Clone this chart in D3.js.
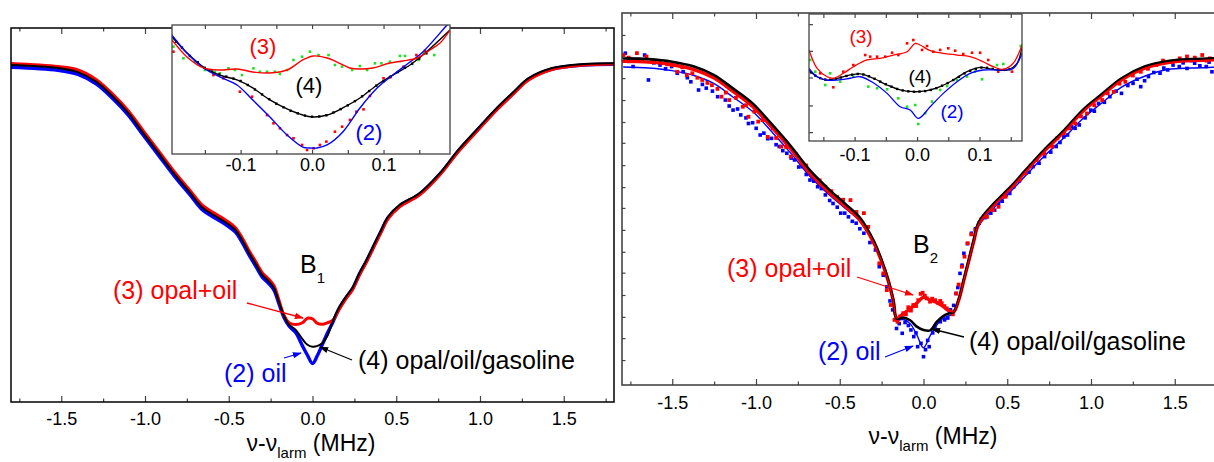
<!DOCTYPE html>
<html lang="en">
<head>
<meta charset="UTF-8">
<title>B1 / B2 line shapes</title>
<script src="https://d3js.org/d3.v7.min.js"></script>
<style>
  body { margin: 0; background: #fff; }
  svg { display: block; }
  svg text { font-family: "Liberation Sans", Arial, sans-serif; }
</style>
</head>
<body>
<svg width="1214" height="462"></svg>
<script>
// ---------- axis ticks ----------
const mainMajors = [-1.5, -1.0, -0.5, 0.0, 0.5, 1.0, 1.5];
const mainLabels = ["-1.5", "-1.0", "-0.5", "0.0", "0.5", "1.0", "1.5"];
const mainMinors = [-1.75, -1.25, -0.75, -0.25, 0.25, 0.75, 1.25, 1.75];
const insetMajors = [-0.1, 0.0, 0.1];
const insetLabels = ["-0.1", "0.0", "0.1"];
const insetMinors = [-0.15, -0.05, 0.05, 0.15];
const rpYTicks = [0.941, 0.882, 0.825, 0.766, 0.707, 0.651, 0.591, 0.532, 0.476, 0.417, 0.358, 0.302, 0.242, 0.183, 0.126, 0.067];
const riYTicks = [0.07, 0.28, 0.5, 0.71, 0.92];

// ---------- left panel (B1), frequency in MHz, normalised signal ----------
const lpX = [-1.80,-1.52,-1.40,-1.29,-1.19,-1.10,-1.01,-0.92,-0.82,-0.73,-0.66,-0.59,-0.52,-0.46,-0.42,-0.38,-0.34,-0.30,-0.26,-0.23,-0.20,-0.17,-0.14,-0.10,-0.06,-0.03,0.00,0.03,0.06,0.09,0.12,0.16,0.20,0.24,0.28,0.32,0.38,0.41,0.45,0.52,0.64,0.76,0.87,0.99,1.10,1.20,1.29,1.43,1.62,1.80];
const lpBlack = [0.901,0.893,0.882,0.856,0.816,0.773,0.719,0.666,0.607,0.559,0.521,0.500,0.481,0.460,0.433,0.400,0.370,0.340,0.322,0.305,0.268,0.230,0.207,0.193,0.168,0.153,0.148,0.150,0.158,0.178,0.215,0.254,0.282,0.307,0.345,0.378,0.433,0.460,0.495,0.527,0.559,0.612,0.674,0.733,0.786,0.829,0.866,0.893,0.904,0.906];
const lpBlue = [0.895,0.887,0.876,0.850,0.810,0.767,0.713,0.660,0.601,0.553,0.515,0.494,0.475,0.454,0.427,0.394,0.364,0.334,0.316,0.299,0.262,0.226,0.203,0.185,0.150,0.125,0.103,0.125,0.155,0.185,0.212,0.251,0.279,0.304,0.342,0.375,0.430,0.457,0.492,0.524,0.556,0.609,0.671,0.730,0.783,0.826,0.863,0.890,0.901,0.903];
const lpRed = [0.905,0.897,0.888,0.862,0.822,0.779,0.725,0.672,0.613,0.565,0.527,0.506,0.487,0.466,0.439,0.406,0.376,0.346,0.328,0.311,0.272,0.232,0.212,0.207,0.212,0.224,0.222,0.210,0.208,0.212,0.218,0.248,0.276,0.301,0.339,0.372,0.427,0.454,0.489,0.522,0.554,0.607,0.669,0.728,0.781,0.824,0.861,0.889,0.901,0.904];

// left inset (fits + points)
const liRedX = [-0.196,-0.175,-0.152,-0.129,-0.105,-0.083,-0.059,-0.035,-0.013,0.002,0.021,0.035,0.053,0.067,0.085,0.109,0.127,0.147,0.165,0.179,0.193];
const liRed = [0.884,0.752,0.667,0.651,0.659,0.636,0.628,0.651,0.729,0.760,0.744,0.713,0.667,0.659,0.667,0.705,0.721,0.744,0.806,0.860,0.961];
const liBlackX = [-0.196,-0.175,-0.152,-0.129,-0.105,-0.083,-0.059,-0.035,-0.013,0.001,0.021,0.043,0.067,0.091,0.113,0.137,0.155,0.193];
const liBlack = [0.907,0.783,0.674,0.612,0.574,0.512,0.419,0.349,0.302,0.287,0.302,0.357,0.434,0.535,0.612,0.690,0.767,0.961];
const liBlueX = [-0.196,-0.175,-0.152,-0.129,-0.105,-0.083,-0.059,-0.035,-0.013,-0.004,0.007,0.021,0.043,0.067,0.091,0.113,0.137,0.155,0.189,0.200];
const liBlue = [0.922,0.783,0.667,0.597,0.535,0.419,0.287,0.147,0.054,0.047,0.047,0.070,0.171,0.357,0.512,0.612,0.713,0.791,1.000,1.060];
const liGreenPts = [[-0.194,0.832],[-0.180,0.742],[-0.164,0.716],[-0.150,0.651],[-0.136,0.638],[-0.129,0.625],[-0.117,0.664],[-0.108,0.651],[-0.098,0.612],[-0.082,0.664],[-0.073,0.638],[-0.063,0.638],[-0.052,0.638],[-0.045,0.620],[-0.035,0.651],[-0.026,0.729],[-0.014,0.754],[-0.003,0.793],[0.009,0.767],[0.023,0.767],[0.032,0.690],[0.042,0.677],[0.056,0.651],[0.067,0.682],[0.077,0.651],[0.088,0.703],[0.097,0.703],[0.109,0.716],[0.123,0.760],[0.130,0.760],[0.149,0.729],[0.156,0.780],[0.171,0.767]];
const liRedPts = [[-0.194,0.793],[-0.138,0.612],[-0.124,0.587],[-0.101,0.483],[-0.084,0.444],[-0.063,0.302],[-0.054,0.238],[-0.045,0.199],[-0.035,0.147],[-0.026,0.122],[-0.014,0.070],[-0.007,0.031],[0.002,0.044],[0.011,0.070],[0.020,0.096],[0.032,0.173],[0.042,0.212],[0.053,0.264],[0.062,0.328],[0.072,0.346],[0.081,0.450],[0.100,0.587],[0.109,0.594],[0.128,0.677],[0.146,0.767],[0.158,0.800]];
const liBlackPts = [[-0.190,0.870],[-0.182,0.825],[-0.171,0.760],[-0.160,0.712],[-0.150,0.668],[-0.140,0.640],[-0.130,0.617],[-0.120,0.600],[-0.110,0.585],[-0.100,0.566],[-0.090,0.535],[-0.080,0.500],[-0.070,0.462],[-0.060,0.425],[-0.050,0.390],[-0.040,0.362],[-0.030,0.335],[-0.020,0.315],[-0.010,0.298],[0.000,0.289],[0.010,0.291],[0.020,0.300],[0.030,0.322],[0.040,0.348],[0.050,0.377],[0.060,0.410],[0.070,0.447],[0.080,0.488],[0.090,0.530],[0.100,0.565],[0.110,0.600],[0.120,0.635],[0.130,0.668],[0.140,0.700],[0.150,0.740],[0.160,0.780]];

// ---------- right panel (B2) ----------
const rpX = [-1.79,-1.64,-1.50,-1.37,-1.25,-1.14,-1.02,-0.91,-0.79,-0.68,-0.56,-0.47,-0.38,-0.30,-0.25,-0.21,-0.18,-0.16,-0.12,-0.08,-0.04,0.00,0.04,0.08,0.12,0.15,0.18,0.21,0.24,0.27,0.30,0.33,0.42,0.52,0.61,0.72,0.84,0.95,1.07,1.18,1.32,1.46,1.60,1.73,1.80];
const rpBlack = [0.878,0.876,0.869,0.856,0.833,0.798,0.757,0.703,0.641,0.578,0.524,0.488,0.450,0.390,0.336,0.282,0.228,0.178,0.181,0.174,0.157,0.148,0.147,0.170,0.186,0.192,0.197,0.230,0.283,0.336,0.390,0.438,0.488,0.533,0.578,0.632,0.685,0.739,0.784,0.824,0.856,0.871,0.876,0.878,0.879];
const rpBlue = [0.855,0.852,0.845,0.832,0.810,0.775,0.735,0.683,0.622,0.562,0.510,0.476,0.440,0.382,0.330,0.276,0.222,0.176,0.176,0.165,0.135,0.100,0.133,0.162,0.180,0.186,0.192,0.225,0.276,0.328,0.380,0.428,0.476,0.520,0.563,0.615,0.665,0.716,0.760,0.800,0.830,0.848,0.852,0.854,0.855];
const rpRed = [0.870,0.868,0.861,0.848,0.825,0.790,0.749,0.695,0.633,0.570,0.516,0.481,0.443,0.385,0.332,0.279,0.226,0.180,0.192,0.205,0.220,0.236,0.228,0.222,0.210,0.200,0.197,0.228,0.280,0.333,0.386,0.434,0.484,0.529,0.574,0.628,0.681,0.735,0.780,0.820,0.852,0.867,0.872,0.874,0.875];
const rpBluePts = [[-1.780,0.892],[-1.760,0.870],[-1.734,0.856],[-1.700,0.875],[-1.665,0.887],[-1.642,0.820],[-1.610,0.866],[-1.573,0.860],[-1.540,0.850],[-1.504,0.856],[-1.470,0.838],[-1.435,0.842],[-1.410,0.826],[-1.389,0.815],[-1.343,0.793],[-1.320,0.808],[-1.297,0.798],[-1.260,0.790],[-1.229,0.775],[-1.183,0.766],[-1.160,0.750],[-1.137,0.739],[-1.110,0.742],[-1.091,0.726],[-1.060,0.718],[-1.045,0.703],[-1.020,0.705],[-0.999,0.690],[-0.975,0.672],[-0.953,0.677],[-0.930,0.662],[-0.907,0.663],[-0.880,0.646],[-0.861,0.641],[-0.840,0.630],[-0.816,0.623],[-0.790,0.610],[-0.770,0.605],[-0.745,0.586],[-0.724,0.587],[-0.700,0.566],[-0.678,0.551],[-0.655,0.548],[-0.632,0.533],[-0.610,0.528],[-0.586,0.511],[-0.560,0.496],[-0.540,0.488],[-0.515,0.478],[-0.494,0.462],[-0.470,0.462],[-0.448,0.452],[-0.425,0.440],[-0.402,0.435],[-0.380,0.420],[-0.356,0.408],[-0.320,0.383],[-0.287,0.363],[-0.264,0.318],[-0.240,0.295],[-0.219,0.264],[-0.200,0.226],[-0.184,0.202],[-0.161,0.152],[-0.145,0.165],[-0.127,0.139],[-0.110,0.168],[-0.090,0.160],[-0.075,0.148],[-0.058,0.130],[-0.045,0.140],[-0.035,0.103],[-0.015,0.112],[0.000,0.076],[0.012,0.095],[0.025,0.120],[0.034,0.103],[0.055,0.140],[0.068,0.158],[0.080,0.148],[0.100,0.170],[0.126,0.175],[0.145,0.180],[0.161,0.202],[0.180,0.214],[0.195,0.246],[0.205,0.262],[0.218,0.300],[0.230,0.322],[0.241,0.354],[0.262,0.380],[0.287,0.408],[0.310,0.420],[0.333,0.435],[0.370,0.450],[0.402,0.462],[0.425,0.470],[0.448,0.488],[0.470,0.494],[0.494,0.511],[0.515,0.515],[0.539,0.533],[0.570,0.548],[0.608,0.569],[0.630,0.572],[0.654,0.587],[0.690,0.596],[0.723,0.614],[0.760,0.626],[0.792,0.641],[0.815,0.652],[0.838,0.667],[0.860,0.672],[0.884,0.694],[0.905,0.690],[0.930,0.699],[0.965,0.718],[0.999,0.739],[1.020,0.736],[1.045,0.757],[1.080,0.760],[1.113,0.775],[1.150,0.790],[1.182,0.784],[1.220,0.805],[1.251,0.811],[1.275,0.822],[1.297,0.802],[1.320,0.818],[1.343,0.829],[1.375,0.840],[1.412,0.838],[1.435,0.852],[1.458,0.847],[1.490,0.860],[1.527,0.856],[1.550,0.866],[1.573,0.851],[1.600,0.872],[1.619,0.865],[1.650,0.858],[1.688,0.856],[1.705,0.868],[1.722,0.842]];
const rpRedPts = [[-1.791,0.887],[-1.760,0.880],[-1.711,0.892],[-1.680,0.874],[-1.654,0.883],[-1.620,0.870],[-1.573,0.869],[-1.530,0.862],[-1.500,0.860],[-1.470,0.842],[-1.440,0.854],[-1.413,0.833],[-1.380,0.838],[-1.350,0.826],[-1.321,0.820],[-1.290,0.812],[-1.263,0.806],[-1.230,0.796],[-1.206,0.775],[-1.180,0.786],[-1.160,0.766],[-1.120,0.772],[-1.079,0.748],[-1.060,0.752],[-1.045,0.721],[-1.010,0.735],[-0.987,0.708],[-0.960,0.712],[-0.930,0.667],[-0.900,0.690],[-0.880,0.664],[-0.850,0.641],[-0.820,0.640],[-0.792,0.614],[-0.760,0.620],[-0.724,0.596],[-0.700,0.590],[-0.655,0.560],[-0.620,0.550],[-0.586,0.533],[-0.550,0.521],[-0.517,0.506],[-0.480,0.498],[-0.436,0.497],[-0.400,0.465],[-0.356,0.462],[-0.330,0.425],[-0.300,0.384],[-0.264,0.327],[-0.240,0.300],[-0.219,0.255],[-0.195,0.215],[-0.173,0.175],[-0.155,0.170],[-0.140,0.184],[-0.121,0.193],[-0.105,0.190],[-0.091,0.209],[-0.075,0.200],[-0.061,0.215],[-0.045,0.212],[-0.031,0.228],[-0.017,0.245],[-0.005,0.248],[0.008,0.240],[0.019,0.233],[0.039,0.224],[0.052,0.232],[0.069,0.228],[0.088,0.220],[0.100,0.226],[0.109,0.220],[0.125,0.212],[0.139,0.206],[0.158,0.197],[0.175,0.190],[0.195,0.246],[0.210,0.270],[0.229,0.318],[0.245,0.345],[0.264,0.381],[0.285,0.405],[0.310,0.417],[0.345,0.445],[0.379,0.452],[0.415,0.470],[0.448,0.479],[0.490,0.506],[0.539,0.538],[0.575,0.552],[0.608,0.569],[0.640,0.590],[0.677,0.605],[0.720,0.622],[0.769,0.641],[0.800,0.664],[0.838,0.677],[0.870,0.690],[0.907,0.703],[0.940,0.722],[0.976,0.730],[1.020,0.752],[1.067,0.766],[1.100,0.784],[1.136,0.788],[1.170,0.810],[1.205,0.815],[1.250,0.832],[1.297,0.842],[1.340,0.850],[1.389,0.860],[1.430,0.872],[1.481,0.869],[1.530,0.878],[1.573,0.883],[1.620,0.880],[1.664,0.887],[1.690,0.872],[1.710,0.878]];

// right inset
const riRedX = [-0.173,-0.160,-0.144,-0.134,-0.118,-0.102,-0.080,-0.059,-0.038,-0.016,-0.003,0.005,0.021,0.042,0.064,0.085,0.106,0.122,0.138,0.154,0.165,0.168];
const riRed = [0.717,0.572,0.506,0.494,0.533,0.585,0.638,0.651,0.677,0.703,0.769,0.756,0.711,0.690,0.677,0.664,0.624,0.585,0.564,0.612,0.717,0.756];
const riBlackX = [-0.173,-0.160,-0.144,-0.128,-0.107,-0.091,-0.070,-0.048,-0.027,-0.006,0.016,0.037,0.058,0.080,0.101,0.122,0.144,0.160,0.168];
const riBlack = [0.559,0.506,0.480,0.494,0.520,0.528,0.494,0.441,0.402,0.388,0.396,0.428,0.480,0.546,0.580,0.564,0.559,0.612,0.743];
const riBlueX = [-0.173,-0.160,-0.144,-0.128,-0.107,-0.091,-0.070,-0.048,-0.027,-0.011,0.002,0.021,0.042,0.064,0.085,0.106,0.133,0.154,0.168];
const riBlue = [0.572,0.506,0.480,0.480,0.494,0.506,0.459,0.375,0.270,0.244,0.178,0.270,0.375,0.467,0.533,0.559,0.559,0.572,0.690];
const riRedPts = [[-0.155,0.533],[-0.134,0.423],[-0.118,0.546],[-0.102,0.598],[-0.083,0.677],[-0.075,0.664],[-0.064,0.664],[-0.051,0.664],[-0.040,0.695],[-0.030,0.677],[-0.016,0.769],[-0.006,0.795],[0.008,0.717],[0.016,0.748],[0.026,0.703],[0.037,0.717],[0.050,0.730],[0.061,0.711],[0.074,0.685],[0.088,0.695],[0.101,0.695],[0.114,0.638],[0.130,0.546],[0.152,0.546]];
const riGreenPts = [[-0.171,0.638],[-0.163,0.546],[-0.147,0.441],[-0.139,0.533],[-0.123,0.467],[-0.102,0.507],[-0.078,0.428],[-0.064,0.415],[-0.048,0.407],[-0.030,0.336],[-0.016,0.270],[-0.003,0.283],[0.002,0.134],[0.013,0.218],[0.024,0.310],[0.037,0.402],[0.048,0.433],[0.064,0.480],[0.080,0.507],[0.093,0.546],[0.104,0.486],[0.128,0.598],[0.138,0.606],[0.166,0.748]];
const riBlackPts = [[-0.170,0.540],[-0.163,0.515],[-0.155,0.495],[-0.147,0.484],[-0.139,0.482],[-0.130,0.490],[-0.122,0.500],[-0.113,0.512],[-0.104,0.522],[-0.095,0.528],[-0.086,0.524],[-0.077,0.510],[-0.068,0.490],[-0.059,0.468],[-0.050,0.447],[-0.041,0.428],[-0.032,0.410],[-0.023,0.398],[-0.014,0.391],[-0.005,0.388],[0.004,0.389],[0.013,0.393],[0.022,0.402],[0.031,0.416],[0.040,0.435],[0.049,0.456],[0.058,0.480],[0.067,0.505],[0.076,0.532],[0.085,0.552],[0.094,0.568],[0.103,0.578],[0.112,0.576],[0.121,0.568],[0.130,0.563],[0.139,0.560],[0.148,0.565]];

// ---------- drawing ----------
const RED = "#ff0000", BLUE = "#0000ff", GREEN = "#22e022", BLACK = "#000";
const svg = d3.select("svg");
const defs = svg.append("defs");

["red", "blue", "black"].forEach(c => {
  defs.append("marker").attr("id", "arr-" + c)
    .attr("viewBox", "0 0 10 10").attr("refX", 9).attr("refY", 5)
    .attr("markerWidth", 7).attr("markerHeight", 7).attr("orient", "auto")
    .append("path").attr("d", "M0,1.5L10,5L0,8.5Z").attr("fill", c);
});

let clipN = 0;
function clipFor(g, x, y) {
  const id = "clip" + (clipN++);
  const [x0, x1] = x.range(), [yb, yt] = y.range();
  defs.append("clipPath").attr("id", id).append("rect")
    .attr("x", x0).attr("y", yt).attr("width", x1 - x0).attr("height", yb - yt);
  return g.append("g").attr("clip-path", `url(#${id})`);
}

function frameAxes(g, x, y, o) {
  const [x0, x1] = x.range(), [yb, yt] = y.range();
  const ax = (gen, ty) => g.append("g").attr("transform", `translate(0,${ty})`)
    .call(gen).call(s => s.select(".domain").remove());
  ax(d3.axisBottom(x).tickValues(o.minors).tickSize(-o.minLen).tickFormat(""), yb);
  ax(d3.axisBottom(x).tickValues(o.majors).tickSize(-o.majLen).tickPadding(o.pad)
    .tickFormat((d, i) => o.labels[i]), yb);
  ax(d3.axisTop(x).tickValues(o.minors).tickSize(-o.minLen).tickFormat(""), yt);
  ax(d3.axisTop(x).tickValues(o.majors).tickSize(-o.majLen).tickFormat(""), yt);
  if (o.yTicks) {
    g.append("g").attr("transform", `translate(${x0},0)`)
      .call(d3.axisLeft(y).tickValues(o.yTicks).tickSize(-o.minLen).tickFormat(""))
      .call(s => s.select(".domain").remove());
  }
  g.selectAll(".tick line").attr("stroke", o.color).attr("stroke-width", 1.2);
  g.selectAll(".tick text").attr("fill", "#000").style("font-size", o.font + "px");
  g.append("rect").attr("x", x0).attr("y", yt).attr("width", x1 - x0).attr("height", yb - yt)
    .attr("fill", "none").attr("stroke", o.color).attr("stroke-width", o.sw);
}

function band(g, x, y, xs, ys, color, w) {
  const line = d3.line().x(d => x(d[0])).y(d => y(d[1])).curve(d3.curveCatmullRom.alpha(0.5));
  g.append("path").datum(d3.zip(xs, ys)).attr("d", line)
    .attr("fill", "none").attr("stroke", color).attr("stroke-width", w)
    .attr("stroke-linejoin", "round").attr("stroke-linecap", "round");
}

function dots(g, x, y, pts, color, s) {
  g.append("g").selectAll("rect").data(pts).join("rect")
    .attr("x", d => x(d[0]) - s / 2).attr("y", d => y(d[1]) - s / 2)
    .attr("width", s).attr("height", s).attr("fill", color);
}

function label(g, txt, px, py, color, size, sub, subSize, anchor) {
  const t = g.append("text").attr("x", px).attr("y", py).attr("fill", color)
    .style("font-size", size + "px").attr("text-anchor", anchor || "start").text(txt);
  if (sub) t.append("tspan").attr("dy", size * 0.38).style("font-size", subSize + "px").text(sub);
  return t;
}

function arrow(g, p0, p1, c) {
  g.append("line").attr("x1", p0[0]).attr("y1", p0[1]).attr("x2", p1[0]).attr("y2", p1[1])
    .attr("stroke", c).attr("stroke-width", 1.3).attr("marker-end", `url(#arr-${c})`);
}

function axisTitle(g, cx, by) {
  const t = g.append("text").attr("x", cx).attr("y", by).attr("text-anchor", "middle")
    .style("font-size", "23px").attr("fill", "#000");
  t.append("tspan").text("\u03bd-\u03bd");
  t.append("tspan").attr("dy", 7).style("font-size", "15px").text("larm");
  t.append("tspan").attr("dy", -7).text(" (MHz)");
}

// ===== left panel =====
{
  const x = d3.scaleLinear().domain([-1.8, 1.8]).range([11, 614]);
  const y = d3.scaleLinear().domain([0, 1]).range([402, 28]);
  const g = svg.append("g");
  const p = clipFor(g, x, y);
  band(p, x, y, lpX, lpBlue, BLUE, 3.4);
  band(p, x, y, lpX, lpRed, RED, 3);
  band(p, x, y, lpX, lpBlack, BLACK, 2);
  frameAxes(g, x, y, { majors: mainMajors, minors: mainMinors, labels: mainLabels,
    color: "#000", majLen: 6, minLen: 3.5, pad: 10, font: 19, sw: 1.5 });
  axisTitle(g, 311, 451);

  label(g, "B", 300, 273, "#000", 25, "1", 15);
  label(g, "(3) opal+oil", 113, 299, RED, 25);
  arrow(g, [247, 303], [303, 318], "red");
  label(g, "(2) oil", 224, 382, BLUE, 25);
  arrow(g, [284, 358], [301, 353], "blue");
  label(g, "(4) opal/oil/gasoline", 358, 369, "#000", 25);
  arrow(g, [352, 360], [320, 347], "black");

  // inset
  const ix = d3.scaleLinear().domain([-0.196, 0.193]).range([172, 450]);
  const iy = d3.scaleLinear().domain([0, 1]).range([154, 25]);
  g.append("rect").attr("x", 172).attr("y", 25).attr("width", 278).attr("height", 129).attr("fill", "#fff");
  const ip = clipFor(g, ix, iy);
  dots(ip, ix, iy, liGreenPts, GREEN, 2.6);
  dots(ip, ix, iy, liRedPts, RED, 2.6);
  dots(ip, ix, iy, liBlackPts, BLACK, 2.4);
  band(ip, ix, iy, liBlackX, liBlack, BLACK, 1.4);
  band(ip, ix, iy, liBlueX, liBlue, BLUE, 1.4);
  band(ip, ix, iy, liRedX, liRed, RED, 1.4);
  frameAxes(g, ix, iy, { majors: insetMajors, minors: insetMinors, labels: insetLabels,
    color: "#444", majLen: 4, minLen: 4, pad: 4, font: 18, sw: 1.3 });
  label(g, "(3)", 263, 54, RED, 22, null, 0, "middle");
  label(g, "(4)", 309, 93, "#000", 22, null, 0, "middle");
  label(g, "(2)", 369, 140, BLUE, 22, null, 0, "middle");
}

// ===== right panel =====
{
  const x = d3.scaleLinear().domain([-1.8, 1.8]).range([622, 1225]);
  const y = d3.scaleLinear().domain([0, 1]).range([385, 13]);
  const g = svg.append("g");
  const p = clipFor(g, x, y);
  dots(p, x, y, rpBluePts, BLUE, 3.6);
  band(p, x, y, rpX, rpBlue, BLUE, 1.4);
  band(p, x, y, rpX, rpRed, RED, 3.4);
  dots(p, x, y, rpRedPts, RED, 3.8);
  band(p, x, y, rpX, rpBlack, BLACK, 2.6);
  band(p, x, y, rpX, rpRed, RED, 1.2);
  frameAxes(g, x, y, { majors: mainMajors, minors: mainMinors, labels: mainLabels,
    color: "#3a3a3a", majLen: 6, minLen: 3.5, pad: 11, font: 19, sw: 1.5, yTicks: rpYTicks });
  axisTitle(g, 933, 444);

  label(g, "B", 913, 253, "#000", 25, "2", 15);
  label(g, "(3) opal+oil", 727, 277, RED, 25);
  arrow(g, [857, 277], [913, 295], "red");
  label(g, "(2) oil", 818, 360, BLUE, 25);
  arrow(g, [885, 357], [913, 346], "blue");
  label(g, "(4) opal/oil/gasoline", 969, 350, "#000", 25);
  arrow(g, [964, 337], [932, 329], "black");

  // inset
  const ix = d3.scaleLinear().domain([-0.173, 0.168]).range([809, 1022]);
  const iy = d3.scaleLinear().domain([0, 1]).range([141, 14]);
  g.append("rect").attr("x", 809).attr("y", 14).attr("width", 213).attr("height", 127).attr("fill", "#fff");
  const ip = clipFor(g, ix, iy);
  dots(ip, ix, iy, riGreenPts, GREEN, 2.6);
  dots(ip, ix, iy, riRedPts, RED, 2.6);
  dots(ip, ix, iy, riBlackPts, BLACK, 2.4);
  band(ip, ix, iy, riBlackX, riBlack, BLACK, 1.3);
  band(ip, ix, iy, riBlueX, riBlue, BLUE, 1.3);
  band(ip, ix, iy, riRedX, riRed, RED, 1.3);
  frameAxes(g, ix, iy, { majors: insetMajors, minors: insetMinors, labels: insetLabels,
    color: "#444", majLen: 4, minLen: 4, pad: 7, font: 18, sw: 1.3, yTicks: riYTicks });
  label(g, "(3)", 861, 43, RED, 19, null, 0, "middle");
  label(g, "(4)", 920, 83, "#000", 19, null, 0, "middle");
  label(g, "(2)", 952, 118, BLUE, 19, null, 0, "middle");
}
</script>
</body>
</html>
